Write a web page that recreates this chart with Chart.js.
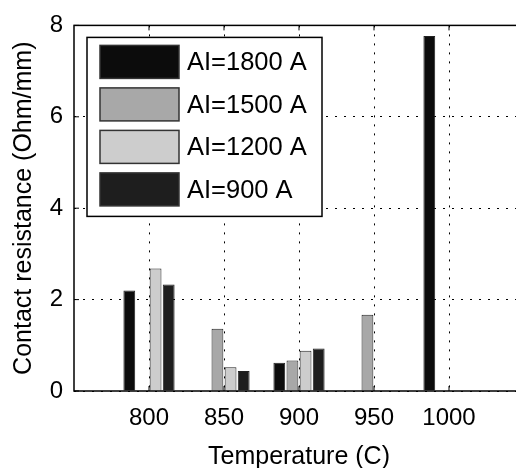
<!DOCTYPE html>
<html>
<head>
<meta charset="utf-8">
<script src="https://cdn.jsdelivr.net/npm/chart.js@4.4.0/dist/chart.umd.min.js"></script>
<style>
  html, body { margin: 0; padding: 0; background: #fff; overflow: hidden; }
  #wrap { width: 516px; height: 468px; overflow: hidden; }
</style>
</head>
<body>
<div id="wrap"><canvas id="resistanceChart" width="530" height="468"></canvas></div>
<script>
    // values (null = no bar)
    const temps = [800, 850, 900, 950, 1000];
    const seriesLabels = ['AI=1800 A', 'AI=1500 A', 'AI=1200 A', 'AI=900 A'];
    const ai1800 = [2.20, null, 0.62, null, 7.77];
    const ai1500 = [null, 1.36, 0.67, 1.67, null];
    const ai1200 = [2.68, 0.52, 0.88, null, null];
    const ai900 = [2.33, 0.44, 0.93, null, null];
    const yTicks = [0, 2, 4, 6, 8];

    const fills = ['#0c0c0c', '#a8a8a8', '#cdcdcd', '#1e1e1e'];
    const FONT = "'Liberation Sans', Arial, sans-serif";

    Chart.defaults.color = '#000';
    Chart.defaults.font.family = FONT;

    const toPoints = vals => temps.map((t, i) => ({ x: t, y: vals[i] }));

    // box frame + inward tick marks, matlab style
    const framePlugin = {
        id: 'frame',
        afterDraw(chart) {
            const { ctx, chartArea: a, scales } = chart;
            ctx.save();
            ctx.strokeStyle = '#000';
            ctx.lineWidth = 1.5;
            ctx.strokeRect(a.left, a.top, a.right - a.left, a.bottom - a.top);
            ctx.lineWidth = 1;
            ctx.beginPath();
            scales.x.ticks.forEach(t => {
                const px = scales.x.getPixelForValue(t.value);
                ctx.moveTo(px, a.bottom); ctx.lineTo(px, a.bottom - 5);
                ctx.moveTo(px, a.top); ctx.lineTo(px, a.top + 5);
            });
            scales.y.ticks.forEach(t => {
                const py = scales.y.getPixelForValue(t.value);
                ctx.moveTo(a.left, py); ctx.lineTo(a.left + 5, py);
                ctx.moveTo(a.right, py); ctx.lineTo(a.right - 5, py);
            });
            ctx.stroke();
            ctx.restore();
        }
    };

    // boxed legend sitting inside the plot, top left
    const boxLegend = {
        id: 'boxLegend',
        afterDraw(chart) {
            const { ctx, chartArea: a } = chart;
            const bx = a.left + 13, by = a.top + 12, bw = 235, bh = 179;
            ctx.save();
            ctx.fillStyle = '#fff';
            ctx.fillRect(bx, by, bw, bh);
            ctx.strokeStyle = '#000';
            ctx.lineWidth = 1.5;
            ctx.strokeRect(bx, by, bw, bh);
            ctx.font = '25.5px ' + FONT;
            ctx.textBaseline = 'middle';
            chart.data.datasets.forEach((ds, i) => {
                const sy = by + 8 + i * 42.5;
                ctx.fillStyle = ds.backgroundColor;
                ctx.fillRect(bx + 13, sy, 79, 33);
                ctx.strokeStyle = '#333';
                ctx.lineWidth = 1.5;
                ctx.strokeRect(bx + 13, sy, 79, 33);
                ctx.fillStyle = '#000';
                ctx.fillText(ds.label, bx + 100, sy + 18);
            });
            ctx.restore();
        }
    };

    const ctx = document.getElementById('resistanceChart').getContext('2d');
    const resistanceChart = new Chart(ctx, {
        type: 'bar',
        data: {
            datasets: [ai1800, ai1500, ai1200, ai900].map((vals, i) => ({
                label: seriesLabels[i],
                data: toPoints(vals),
                backgroundColor: fills[i],
                borderColor: '#222',
                borderWidth: 1,
                categoryPercentage: 0.7,
                barPercentage: 0.9
            }))
        },
        options: {
            responsive: false,
            animation: false,
            devicePixelRatio: 1,
            layout: { padding: { top: 20, right: 6, left: 0, bottom: 0 } },
            plugins: {
                legend: { display: false },
                tooltip: { enabled: false }
            },
            scales: {
                x: {
                    type: 'linear',
                    min: 750,
                    max: 1050,
                    offset: false,
                    afterBuildTicks: scale => {
                        scale.ticks = temps.map(v => ({ value: v }));
                    },
                    afterFit: scale => { scale.height = 77; },
                    ticks: {
                        font: { size: 24 },
                        padding: 13,
                        maxRotation: 0,
                        callback: v => String(v)
                    },
                    grid: { offset: false, color: '#000', lineWidth: 1, drawTicks: false },
                    border: { display: false, dash: [2, 7] },
                    title: {
                        display: true,
                        text: 'Temperature (C)',
                        font: { size: 25, lineHeight: 0.9 },
                        padding: { top: 0, bottom: 0 }
                    }
                },
                y: {
                    min: 0,
                    max: 8,
                    afterBuildTicks: scale => {
                        scale.ticks = yTicks.map(v => ({ value: v }));
                    },
                    afterFit: scale => { scale.width = 74; },
                    ticks: { font: { size: 24 }, padding: 11 },
                    grid: { color: '#000', lineWidth: 1, drawTicks: false },
                    border: { display: false, dash: [2, 7] },
                    title: {
                        display: true,
                        text: 'Contact resistance (Ohm/mm)',
                        font: { size: 25, lineHeight: 1.2 },
                        padding: { top: 9, bottom: 0 }
                    }
                }
            }
        },
        plugins: [framePlugin, boxLegend]
    });
</script>
</body>
</html>
